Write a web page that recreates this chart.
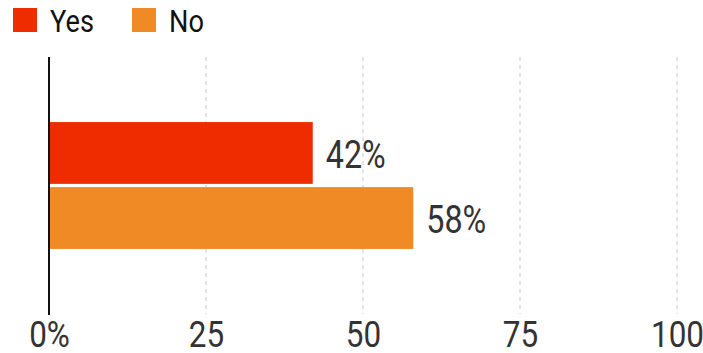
<!DOCTYPE html>
<html>
<head>
<meta charset="utf-8">
<script src="https://cdn.jsdelivr.net/npm/d3@7"></script>
<style>
  body { margin: 0; background: #fff; }
  text { font-family: "Roboto", sans-serif; }
</style>
</head>
<body>
<div id="chart"></div>
<script>
// data
var categories = ["Yes", "No"];
var values = [42, 58];
var colors = ["#ee2c00", "#f08a24"];
var ticks = [0, 25, 50, 75, 100];

// the reference font is condensed; squeeze Roboto to match
var narrow = "scale(0.85,1)";

var margin = { top: 57, right: 26, bottom: 39, left: 49 },
  width = 703 - margin.left - margin.right,
  height = 353 - margin.top - margin.bottom;

var svg = d3
  .select("#chart")
  .append("svg")
  .attr("width", 703)
  .attr("height", 353);

// legend
var legend = svg
  .selectAll(".legend")
  .data(categories)
  .enter()
  .append("g")
  .attr("class", "legend")
  .attr("transform", function(d, i) {
    return "translate(" + (13 + i * 119) + ",8)";
  });

legend
  .append("rect")
  .attr("width", 24)
  .attr("height", 24)
  .attr("fill", function(d, i) {
    return colors[i];
  });

legend
  .append("text")
  .attr("transform", "translate(37,24) " + narrow)
  .attr("font-size", 32)
  .attr("fill", "#111")
  .text(function(d) {
    return d;
  });

var g = svg
  .append("g")
  .attr("transform", "translate(" + margin.left + "," + margin.top + ")");

var x = d3
  .scaleLinear()
  .domain([0, 100])
  .range([0, width]);

var y = d3
  .scaleBand()
  .domain(categories)
  .range([0, height])
  .paddingInner(0.05)
  .paddingOuter(1);

// dashed gridlines
g.selectAll(".grid")
  .data(ticks.slice(1))
  .enter()
  .append("line")
  .attr("class", "grid")
  .attr("x1", function(d) { return x(d); })
  .attr("x2", function(d) { return x(d); })
  .attr("y1", 0)
  .attr("y2", height)
  .style("stroke", "#dcdcdc")
  .style("stroke-width", 1.5)
  .style("stroke-dasharray", "4,4");

// bars
g.selectAll(".bar")
  .data(values)
  .enter()
  .append("rect")
  .attr("class", "bar")
  .attr("x", x(0))
  .attr("y", function(d, i) { return y(categories[i]); })
  .attr("width", function(d) { return x(d) - x(0); })
  .attr("height", y.bandwidth())
  .attr("fill", function(d, i) { return colors[i]; });

// value labels
g.selectAll(".label")
  .data(values)
  .enter()
  .append("text")
  .attr("class", "label")
  .attr("transform", function(d, i) {
    var ty = y(categories[i]) + y.bandwidth() / 2 + 15;
    return "translate(" + (x(d) + 13) + "," + ty + ") " + narrow;
  })
  .attr("font-size", 38)
  .attr("fill", "#333")
  .text(function(d) { return d + "%"; });

// y axis line
g.append("line")
  .attr("x1", x(0))
  .attr("x2", x(0))
  .attr("y1", 0)
  .attr("y2", height + 1)
  .style("stroke", "#111")
  .style("stroke-width", 2);

// x tick labels
var xAxis = g
  .append("g")
  .attr("transform", "translate(0," + height + ")")
  .call(
    d3
      .axisBottom(x)
      .tickValues(ticks)
      .tickSize(0)
      .tickPadding(0)
      .tickFormat(function(d) { return d === 0 ? "0%" : d; })
  );
xAxis.select(".domain").remove();
xAxis
  .selectAll("text")
  .attr("y", 0)
  .attr("dy", null)
  .attr("transform", "translate(0,33) " + narrow)
  .attr("font-family", "Roboto, sans-serif")
  .attr("font-size", 37)
  .attr("fill", "#333");
</script>
</body>
</html>
